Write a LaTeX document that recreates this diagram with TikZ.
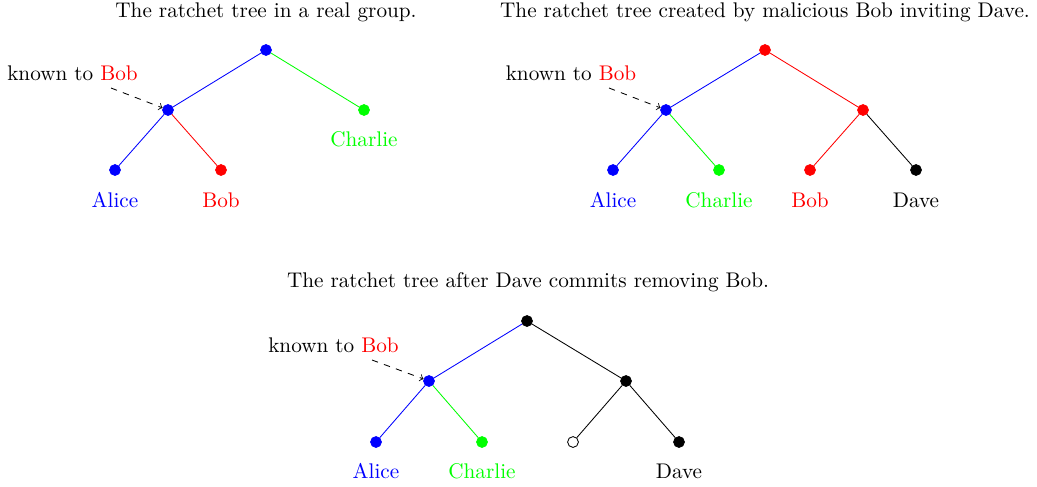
\documentclass[tikz,border=0pt]{standalone}
\usepackage{xcolor}
\definecolor{pblue}{RGB}{0,0,255}
\definecolor{pred}{RGB}{255,0,0}
\definecolor{pgreen}{RGB}{0,255,0}
\begin{document}
\begin{tikzpicture}[x=0.4717pt,y=-0.4717pt,
  dot/.style={circle,fill=#1,draw=#1,inner sep=0pt,minimum size=5.1pt},
  hollow/.style={circle,fill=white,draw=black,inner sep=0pt,minimum size=5.1pt},
  lbl/.style={text=#1,inner sep=1pt},
  edge/.style={draw=#1,line width=0.4pt},
  known/.style={inner sep=1pt},
  hint/.style={dashed,->,line width=0.4pt}]
\useasboundingbox (0,0) rectangle (1037,486);
% Tree 1
\node (t1) at (266,12) {The ratchet tree in a real group.};
\node[dot=pblue] (a0) at (266,50) {};
\node[dot=pblue] (a1) at (168,110) {};
\node[dot=pgreen] (a2) at (364,110) {};
\node[dot=pblue] (a3) at (115,170) {};
\node[dot=pred] (a4) at (221,170) {};
\draw[edge=pblue] (a0) -- (a1);
\draw[edge=pgreen] (a0) -- (a2);
\draw[edge=pblue] (a1) -- (a3);
\draw[edge=pred] (a1) -- (a4);
\node[lbl=pgreen] (la2) at (364,139) {Charlie};
\node[lbl=pblue] (la3) at (115,200) {Alice};
\node[lbl=pred] (la4) at (221,200) {Bob};
\node[known] (k1) at (72.5,73) {known to \textcolor{pred}{Bob}};
\coordinate (k1s) at (111,88);
\draw[hint] (k1s) -- (a1);
% Tree 2
\node (t2) at (765,12) {The ratchet tree created by malicious Bob inviting Dave.};
\node[dot=pred] (b0) at (765,50) {};
\node[dot=pblue] (b1) at (666,110) {};
\node[dot=pred] (b2) at (863,110) {};
\node[dot=pblue] (b3) at (613,170) {};
\node[dot=pgreen] (b4) at (719,170) {};
\node[dot=pred] (b5) at (810,170) {};
\node[dot=black] (b6) at (916,170) {};
\draw[edge=pblue] (b0) -- (b1);
\draw[edge=pred] (b0) -- (b2);
\draw[edge=pblue] (b1) -- (b3);
\draw[edge=pgreen] (b1) -- (b4);
\draw[edge=pred] (b2) -- (b5);
\draw[edge=black] (b2) -- (b6);
\node[lbl=pblue] (lb3) at (613,200) {Alice};
\node[lbl=pgreen] (lb4) at (719,200) {Charlie};
\node[lbl=pred] (lb5) at (810,200) {Bob};
\node[lbl=black] (lb6) at (916,200) {Dave};
\node[known] (k2) at (571,73) {known to \textcolor{pred}{Bob}};
\coordinate (k2s) at (609,88);
\draw[hint] (k2s) -- (b1);
% Tree 3
\node (t3) at (528,282) {The ratchet tree after Dave commits removing Bob.};
\node[dot=black] (c0) at (527,321) {};
\node[dot=pblue] (c1) at (429,381) {};
\node[dot=black] (c2) at (626,381) {};
\node[dot=pblue] (c3) at (376,442) {};
\node[dot=pgreen] (c4) at (482,442) {};
\node[hollow] (c5) at (573,442) {};
\node[dot=black] (c6) at (679,442) {};
\draw[edge=pblue] (c0) -- (c1);
\draw[edge=black] (c0) -- (c2);
\draw[edge=pblue] (c1) -- (c3);
\draw[edge=pgreen] (c1) -- (c4);
\draw[edge=black] (c2) -- (c5);
\draw[edge=black] (c2) -- (c6);
\node[lbl=pblue] (lc3) at (376,471) {Alice};
\node[lbl=pgreen] (lc4) at (482,471) {Charlie};
\node[lbl=black] (lc6) at (679,471) {Dave};
\node[known] (k3) at (333.5,345) {known to \textcolor{pred}{Bob}};
\coordinate (k3s) at (372,360);
\draw[hint] (k3s) -- (c1);
\end{tikzpicture}
\end{document}
